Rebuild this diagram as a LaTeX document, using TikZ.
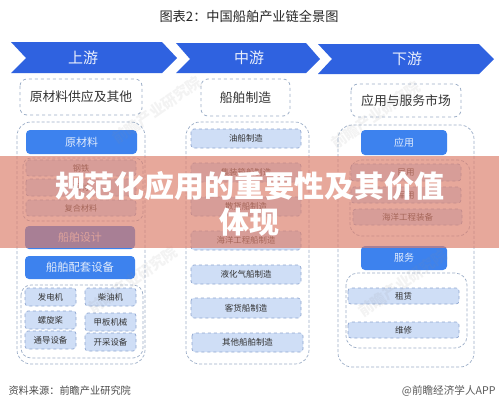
\documentclass[tikz,border=0pt]{standalone}
\usepackage{fontspec}
\setmainfont{Noto Sans CJK SC}
\newfontfamily\hdfont{Noto Sans CJK SC Black}
\usetikzlibrary{calc}
\definecolor{arrowblue}{HTML}{2F62E0}
\definecolor{btnblue}{HTML}{3D82EE}
\definecolor{cellblue}{HTML}{CFDEF6}
\definecolor{dashgrey}{HTML}{9DAFC8}
\definecolor{cellline}{HTML}{8FA6D0}
\definecolor{band}{HTML}{DC7F6C}
\tikzset{
  x=1pt,y=-1pt,
  chev/.style={fill=arrowblue,draw=none},
  lab/.style={text=white!90!arrowblue,font=\fontsize{15}{15}\selectfont},
  hdbox/.style={draw=dashgrey,dashed,line width=.8pt,rounded corners=7pt,fill=white},
  outer/.style={draw=dashgrey,densely dashed,line width=.7pt,rounded corners=14pt},
  btn/.style={fill=btnblue,draw=none,rounded corners=4pt},
  cell/.style={fill=cellblue,draw=cellline,dashed,line width=.7pt,rounded corners=3pt},
  t/.style={text=black!80,font=\fontsize{#1}{#1}\selectfont},
  wt/.style={text=white!85!btnblue,font=\fontsize{#1}{#1}\selectfont},
  wm/.style={text=black!45,opacity=.10,rotate=35,font=\fontsize{15}{15}\selectfont\bfseries},
}
\newcommand{\boxat}[6]{\path[#1] (#2,#3) rectangle (#4,#5); \node[#6] at ({(#2+#4)/2},{(#3+#5)/2})}
\begin{document}
\begin{tikzpicture}
\useasboundingbox (0,0) rectangle (499,408);
\fill[white] (0,0) rectangle (499,408);
\node[t=13.2,text=black!85] (title) at (249,16) {图表2：中国船舶产业链全景图};
% chevrons
\fill[chev] (11,42) -- (162,42) -- (177,58) -- (162,73) -- (11,73) -- (26,58) -- cycle;
\fill[chev] (176,43) -- (306,43) -- (320,59) -- (306,73) -- (176,73) -- (190,59) -- cycle;
\fill[chev] (318,44) -- (479,44) -- (494,59) -- (479,74) -- (318,74) -- (332,59) -- cycle;
\node[lab] (up) at (83,58) {上游};
\node[lab] (mid) at (249,58) {中游};
\node[lab] (down) at (407,59) {下游};
% header boxes
\boxat{hdbox}{20}{79}{142}{115}{t=12.8} (h1) {原材料供应及其他};
\boxat{hdbox}{201}{79}{290}{116}{t=12.8} (h2) {船舶制造};
\boxat{hdbox}{351}{84}{461}{117}{t=12.8} (h3) {应用与服务市场};
% outer frames
\draw[outer] (17,122) rectangle (145,364);
\draw[outer] (186,122) rectangle (309,364);
\draw[outer] (338,125) rectangle (474,367);
% upstream
\boxat{btn}{26}{130}{137}{154}{wt=11} (a1) {原材料};
\draw[outer,rounded corners=8pt] (23,158) rectangle (143,221);
\boxat{cell}{26}{160}{136}{176}{t=8.2} (a2) {钢铁};
\boxat{cell}{26}{179}{136}{196}{t=8.2} (a3) {铝材};
\boxat{cell}{26}{200}{136}{216}{t=8.2} (a4) {复合材料};
\boxat{btn}{25}{226}{135}{249}{wt=11} (a5) {船舶设计};
\boxat{btn}{25}{256}{135}{279}{wt=11.3} (a6) {船舶配套设备};
\draw[outer,rounded corners=10pt] (21,285) rectangle (143,358);
\boxat{cell}{25}{288}{76}{306}{t=8.4} (b1) {发电机};
\boxat{cell}{85}{288}{136}{306}{t=8.4} (b2) {柴油机};
\boxat{cell}{25}{311}{76}{329}{t=8.4} (b3) {螺旋桨};
\boxat{cell}{85}{313}{136}{331}{t=8.4} (b4) {甲板机械};
\boxat{cell}{25}{331}{76}{349}{t=8.4} (b5) {通导设备};
\boxat{cell}{85}{333}{136}{351}{t=8.4} (b6) {开采设备};
% midstream
\boxat{cell}{191}{129}{301}{148}{t=8.4} (m1) {油船制造};
\boxat{cell}{191}{163}{301}{182}{t=8.4} (m2) {集装箱船制造};
\boxat{cell}{191}{197}{301}{216}{t=8.4} (m3) {散货船制造};
\boxat{cell}{191}{231}{301}{250}{t=8.4} (m4) {海洋工程船制造};
\boxat{cell}{191}{265}{301}{284}{t=8.5} (m5) {液化气船制造};
\boxat{cell}{191}{298}{301}{318}{t=8.5} (m6) {客货船制造};
\boxat{cell}{192}{333}{303}{352}{t=8.5} (m7) {其他船舶制造};
% downstream
\boxat{btn}{361}{130}{447}{155}{wt=10} (d1) {应用};
\draw[outer,rounded corners=12pt] (350,160) rectangle (470,236);
\boxat{cell}{351}{164}{461}{181}{t=8.5} (d2) {民用};
\boxat{cell}{351}{187}{461}{203}{t=8.5} (d3) {军用};
\boxat{cell}{353}{209}{462}{225}{t=8.5} (d4) {海洋工程装备};
\boxat{btn}{361}{246}{447}{270}{wt=10} (d5) {服务};
\draw[outer,rounded corners=12pt] (346,273) rectangle (467,348);
\boxat{cell}{348}{288}{459}{304}{t=8.5} (d6) {租赁};
\boxat{cell}{348}{322}{459}{338}{t=8.5} (d7) {维修};
% watermarks
\node[wm] (w1) at (157,110) {前瞻产业研究院};
\node[wm] (w2) at (133,280) {前瞻产业研究院};
\node[wm] (w3) at (403,283) {前瞻产业研究院};
\node[wm] (w4) at (376,115) {前瞻产业研究院};
% footer
\node[t=10.2,anchor=west,text=black!70] (src) at (5,391) {资料来源：前瞻产业研究院};
\node[t=10.6,anchor=east,text=black!65] (app) at (499,391) {@前瞻经济学人APP};
% band
\fill[band,opacity=.68] (0,156) rectangle (499,248);
\node[text=white,font=\hdfont\fontsize{30}{30}\selectfont] (h) at (250,186) {规范化应用的重要性及其价值};
\node[text=white,font=\hdfont\fontsize{30}{30}\selectfont] (h2b) at (249,222) {体现};
\end{tikzpicture}
\end{document}
